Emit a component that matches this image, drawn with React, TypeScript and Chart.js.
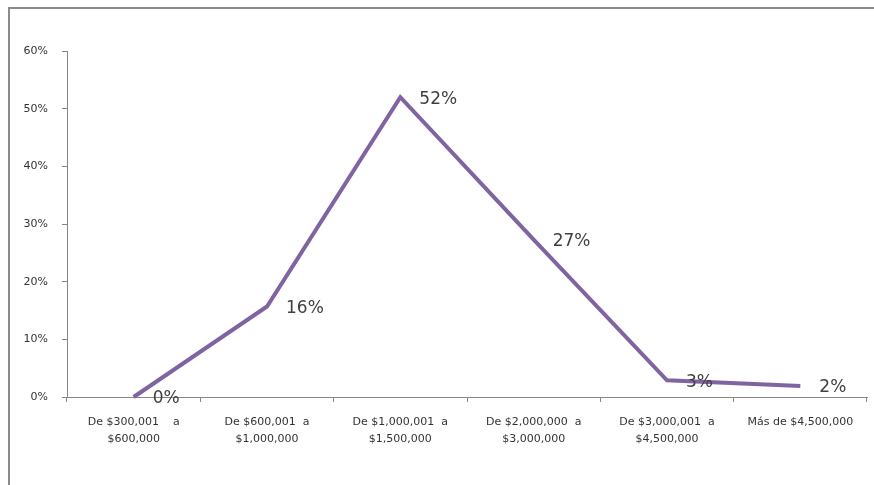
import React, { useEffect, useRef } from "react";
import { Chart, registerables } from "chart.js";

Chart.register(...registerables);

const categories: (string | string[])[] = [
  ["De $300,001    a", "$600,000"],
  ["De $600,001  a", "$1,000,000"],
  ["De $1,000,001  a", "$1,500,000"],
  ["De $2,000,000  a", "$3,000,000"],
  ["De $3,000,001  a", "$4,500,000"],
  "Más de $4,500,000",
];
const values: number[] = [0, 15.7, 52.0, 27.3, 2.9, 1.9];
const pointLabels: string[] = ["0%", "16%", "52%", "27%", "3%", "2%"];
const yTicks: number[] = [0, 10, 20, 30, 40, 50, 60];

const FONT = "'DejaVu Sans', 'Open Sans', sans-serif";

const framePlugin = {
  id: "frame",
  beforeDraw(chart: any) {
    const ctx = chart.ctx;
    ctx.save();
    ctx.fillStyle = "#ffffff";
    ctx.fillRect(0, 0, chart.width, chart.height);
    ctx.strokeStyle = "#8c8c8c";
    ctx.lineWidth = 2;
    ctx.beginPath();
    ctx.moveTo(9, chart.height + 5);
    ctx.lineTo(9, 8);
    ctx.lineTo(chart.width + 5, 8);
    ctx.stroke();
    ctx.restore();
  },
};

const labelPlugin = {
  id: "pointLabels",
  afterDatasetsDraw(chart: any) {
    const ctx = chart.ctx;
    const meta = chart.getDatasetMeta(0);
    ctx.save();
    ctx.font = `17px ${FONT}`;
    ctx.fillStyle = "#404040";
    ctx.textAlign = "left";
    ctx.textBaseline = "middle";
    meta.data.forEach((pt: any, i: number) => {
      ctx.fillText(pointLabels[i], pt.x + 19, pt.y + 2);
    });
    ctx.restore();
  },
};

export default function App() {
  const ref = useRef<HTMLCanvasElement | null>(null);
  useEffect(() => {
    if (!ref.current) return;
    const chart = new Chart(ref.current, {
      type: "line",
      data: {
        labels: categories,
        datasets: [
          {
            data: values,
            borderColor: "#8064A2",
            backgroundColor: "#8064A2",
            borderWidth: 4,
            pointRadius: 0,
            pointHoverRadius: 0,
            tension: 0,
            clip: false as any,
            borderJoinStyle: "miter" as any,
          },
        ],
      },
      options: {
        animation: false,
        responsive: false,
        maintainAspectRatio: false,
        layout: { padding: { top: 51, left: 0, right: 7, bottom: 0 } },
        plugins: {
          legend: { display: false },
          tooltip: { enabled: false },
        },
        scales: {
          x: {
            offset: true,
            grid: {
              display: true,
              drawOnChartArea: false,
              offset: true,
              tickLength: 5,
              color: "#868686",
            },
            border: { display: true, color: "#868686", width: 1 },
            ticks: {
              color: "#333333",
              font: { family: FONT, size: 11, lineHeight: 17 / 11 },
              maxRotation: 0,
              autoSkip: false,
              padding: 12,
            },
            afterFit(scale: any) {
              scale.height = 485 - 397;
            },
          },
          y: {
            min: 0,
            max: 60,
            afterBuildTicks(scale: any) {
              scale.ticks = yTicks.map((v) => ({ value: v }));
            },
            grid: {
              display: true,
              drawOnChartArea: false,
              tickLength: 5,
              color: "#868686",
            },
            border: { display: true, color: "#868686", width: 1 },
            ticks: {
              color: "#333333",
              font: { family: FONT, size: 11 },
              padding: 14,
              callback: (v: any) => `${v}%`,
            },
            afterFit(scale: any) {
              scale.width = 67;
            },
          },
        },
      },
      plugins: [framePlugin, labelPlugin],
    });
    return () => chart.destroy();
  }, []);
  return (
    <div style={{ position: "fixed", left: 0, top: 0, width: 874, height: 485, background: "#fff" }}>
      <canvas ref={ref} width={874} height={485} style={{ width: 874, height: 485, display: "block" }} />
    </div>
  );
}
